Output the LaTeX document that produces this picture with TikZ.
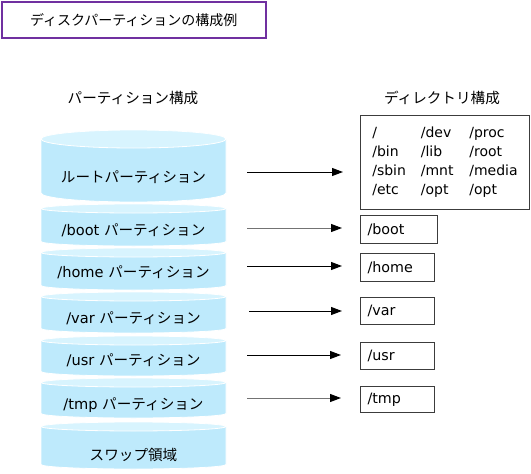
\documentclass[tikz,border=0pt]{standalone}
\usepackage{fontspec}
\setmainfont{DejaVu Sans}
\newfontfamily\jp{Noto Sans CJK JP}
\usetikzlibrary{arrows.meta}
\definecolor{cylbody}{RGB}{190,234,252}
\definecolor{cyltop}{RGB}{216,244,254}
\definecolor{titlepurple}{RGB}{112,48,160}
\definecolor{boxline}{RGB}{60,60,60}
\newcommand\cylshape[3]{%
  \fill[cylbody, draw=white, line width=0.8pt] (41,#1+#3) -- (41,#2-#3) arc[start angle=180,end angle=0,x radius=92.5,y radius=#3] -- (226,#1+#3) -- cycle;
  \fill[cyltop, draw=white, line width=0.8pt] (133.5,#1+#3) ellipse[x radius=92.5,y radius=#3];
}
\begin{document}
\begin{tikzpicture}[x=1pt,y=-1pt,
  lbl/.style={font=\fontsize{14.6}{17}\selectfont, inner sep=0pt},
  arr/.style={-{Triangle[length=11pt,width=8pt,color=black]}, line width=1pt},
  dirbox/.style={draw=boxline, line width=1pt, font=\fontsize{14.3}{17}\selectfont, anchor=north west, align=left, inner xsep=7pt, inner ysep=0pt, minimum height=28pt}]
\useasboundingbox (0,0) rectangle (531,474);
% title
\node[draw=titlepurple, line width=1.5pt, minimum width=264pt, minimum height=36pt, anchor=north west, inner sep=0pt] (title) at (1,1) {};
\node[lbl, font=\fontsize{14}{17}\selectfont] (titletext) at (title.center) {\jp ディスクパーティションの構成例};
% headers
\node[lbl] (hpart) at (133,98) {\jp パーティション構成};
\node[lbl] (hdir) at (442,98) {\jp ディレクトリ構成};
% cylinders
\cylshape{130}{202}{9}
\cylshape{204}{246}{4.5}
\cylshape{248}{290}{4.5}
\cylshape{292}{333}{4.5}
\cylshape{336}{376}{4.5}
\cylshape{378}{418}{4.5}
\cylshape{422}{469}{4.5}
\node[lbl] (proot) at (133.5,177) {\jp ルートパーティション};
\node[lbl] (pboot) at (133.5,230) {/boot {\jp パーティション}};
\node[lbl] (phome) at (133.5,272) {/home {\jp パーティション}};
\node[lbl] (pvar) at (133.5,318) {/var {\jp パーティション}};
\node[lbl] (pusr) at (133.5,360) {/usr {\jp パーティション}};
\node[lbl] (ptmp) at (133.5,405) {/tmp {\jp パーティション}};
\node[lbl] (pswap) at (133.5,455) {\jp スワップ領域};
% directory boxes
\node[draw=boxline, line width=1pt, anchor=north west, minimum width=169pt, minimum height=94pt, inner xsep=10pt, inner ysep=9pt, font=\fontsize{14}{19}\selectfont] (droot) at (360,115)
  {\begin{tabular}{@{}p{48.5pt}@{}p{48.5pt}@{}l@{}}/&/dev&/proc\\ /bin&/lib&/root\\ /sbin&/mnt&/media\\ /etc&/opt&/opt\end{tabular}};
\node[dirbox, minimum width=77pt, text width=63pt] (dboot) at (360,215) {/boot};
\node[dirbox, minimum width=74pt, text width=60pt] (dhome) at (360,253) {/home};
\node[dirbox, minimum width=74pt, text width=60pt, minimum height=27pt] (dvar) at (360,297) {/var};
\node[dirbox, minimum width=74pt, text width=60pt, minimum height=27pt] (dusr) at (360,342) {/usr};
\node[dirbox, minimum width=74pt, text width=60pt, minimum height=26pt] (dtmp) at (360,386) {/tmp};
% arrows
\coordinate (a1s) at (247,172); \coordinate (a1e) at (343,172);
\coordinate (a2s) at (247,228); \coordinate (a2e) at (342,228);
\coordinate (a3s) at (247,266); \coordinate (a3e) at (342,266);
\coordinate (a4s) at (249,311); \coordinate (a4e) at (342,311);
\coordinate (a5s) at (247,355); \coordinate (a5e) at (341,355);
\coordinate (a6s) at (247,398); \coordinate (a6e) at (341,398);
\draw[arr] (a1s) -- (a1e);
\draw[arr, draw=black!55] (a2s) -- (a2e);
\draw[arr] (a3s) -- (a3e);
\draw[arr] (a4s) -- (a4e);
\draw[arr] (a5s) -- (a5e);
\draw[arr, draw=black!55] (a6s) -- (a6e);
\end{tikzpicture}
\end{document}
